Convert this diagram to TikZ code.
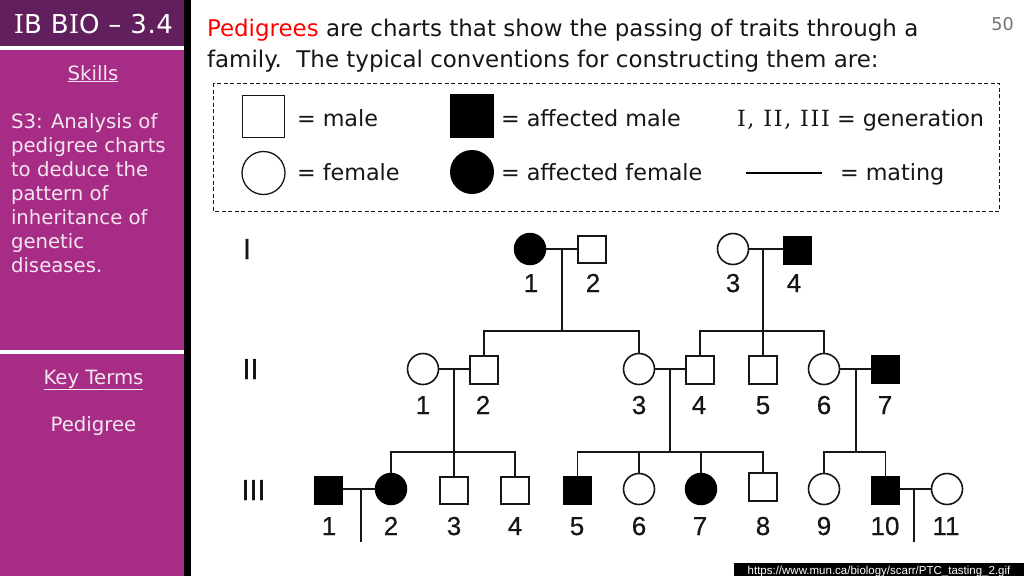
\documentclass[tikz,border=0pt]{standalone}
\usepackage{fontspec}
\setmainfont{DejaVu Sans}
\newfontfamily\helv{Liberation Sans}
\newfontfamily\helvnum[FakeBold=0.5]{Liberation Sans}
\newfontfamily\dvtitle[LetterSpace=2.5]{DejaVu Sans}
\newfontfamily\srtitle[LetterSpace=2.5]{DejaVu Serif}
\newfontfamily\srgen[LetterSpace=7.5]{DejaVu Serif}
\definecolor{sidepurple}{HTML}{A62C85}
\definecolor{headpurple}{HTML}{621F5E}
\definecolor{sidetext}{HTML}{F3E6F0}
\definecolor{inkblack}{HTML}{161616}
\tikzset{
  x=1pt,y=-1pt,
  txt/.style={anchor=base west,inner sep=0pt,outer sep=0pt,font=\fontsize{22.3}{26}\selectfont,text=inkblack},
  head/.style={txt,font=\fontsize{22.95}{26}\selectfont},
  side/.style={anchor=base west,inner sep=0pt,outer sep=0pt,font=\fontsize{19.7}{22}\selectfont,text=sidetext},
  sidec/.style={side,anchor=base},
  lsq/.style={draw=inkblack,line width=1.3pt,fill=white,minimum size=42pt,inner sep=0pt,outer sep=0pt},
  lcir/.style={circle,draw=inkblack,line width=1.3pt,fill=white,minimum size=43pt,inner sep=0pt,outer sep=0pt},
  msq/.style={draw=inkblack,line width=1.6pt,fill=white,minimum size=27.5pt,inner sep=0pt,outer sep=0pt},
  fsq/.style={fill=black,minimum size=29pt,inner sep=0pt,outer sep=0pt},
  fcir/.style={circle,draw=inkblack,line width=1.6pt,fill=white,minimum size=31pt,inner sep=0pt,outer sep=0pt},
  acir/.style={circle,fill=black,minimum size=32.5pt,inner sep=0pt,outer sep=0pt},
  num/.style={anchor=base,inner sep=0pt,outer sep=0pt,font=\helvnum\fontsize{26}{26}\selectfont,text=inkblack},
  gen/.style={anchor=base,inner sep=0pt,outer sep=0pt,font=\helvnum\fontsize{29}{29}\selectfont,text=inkblack},
  link/.style={draw=inkblack,line width=1.7pt},
}
\begin{document}
\begin{tikzpicture}
\useasboundingbox (0,0) rectangle (1024,576);
\fill[white] (0,0) rectangle (1024,576);
% side bar
\fill[sidepurple] (0,0) rectangle (184,576);
\fill[headpurple] (0,0) rectangle (184,46);
\fill[white] (0,46) rectangle (184,50);
\fill[white] (0,350) rectangle (184,354);
\fill[black] (184,0) rectangle (191,576);
\node[side,anchor=base,font=\dvtitle\fontsize{26}{28}\selectfont,text=white] (title) at (93.5,33) {{\srtitle I}B B{\srtitle I}O – 3.4};
\node[sidec] (skills) at (93,80) {\underline{Skills}};
\node[side] (s1) at (11,128) {S3: Analysis of};
\node[side] (s2) at (11,152) {pedigree charts};
\node[side] (s3) at (11,176) {to deduce the};
\node[side] (s4) at (11,200) {pattern of};
\node[side] (s5) at (11,224) {inheritance of};
\node[side] (s6) at (11,248) {genetic};
\node[side] (s7) at (11,272) {diseases.};
\node[sidec] (keyterms) at (93.5,384) {\underline{Key Terms}};
\node[sidec] (pedterm) at (93.5,431) {Pedigree};
% heading
\node[head] (h1) at (207,36) {\textcolor{red}{Pedigrees} are charts that show the passing of traits through a};
\node[head] (h2) at (207,67) {family.\ \ The typical conventions for constructing them are:};
\node[anchor=base east,inner sep=0pt,font=\fontsize{17.6}{20}\selectfont,text=black!55] (pageno) at (1014,30) {50};
% legend
\draw[inkblack,line width=1pt,dash pattern=on 4pt off 2.5pt] (213,83) rectangle (999,211);
\node[lsq] (lm) at (263.5,116.5) {};
\node[lcir] (lf) at (263.5,173) {};
\node[fill=black,minimum size=44pt,inner sep=0pt] (lam) at (472,116) {};
\node[acir,minimum size=44pt] (laf) at (472,172) {};
\node[txt] (t1) at (297,126) {= male};
\node[txt] (t2) at (297,180) {= female};
\node[txt] (t3) at (501,126) {= affected male};
\node[txt] (t4) at (501,180) {= affected female};
\node[txt] (t5) at (737,126) {{\srgen I, II, III} = generation};
\node[txt] (t6) at (840,180) {= mating};
\coordinate (ml) at (746,173);
\coordinate (mr) at (822,173);
\draw[black,line width=2pt] (ml) -- (mr);
% generation labels
\node[gen] (gI) at (247,259) {I};
\node[gen] (gII) at (250.5,379) {II};
\node[gen] (gIII) at (253.5,500) {III};
% generation I
\node[acir] (a1) at (530,249) {};
\node[msq] (a2) at (592,249.5) {};
\node[fcir] (a3) at (733,249) {};
\node[fsq] (a4) at (797,250) {};
% generation II
\node[fcir] (b1) at (423,369) {};
\node[msq] (b2) at (484,370) {};
\node[fcir] (b3) at (639,369) {};
\node[msq] (b4) at (700,370) {};
\node[msq] (b5) at (763,370) {};
\node[fcir] (b6) at (824,369) {};
\node[fsq] (b7) at (885.5,369.5) {};
% generation III
\node[fsq] (c1) at (328.5,490.5) {};
\node[acir] (c2) at (391,489) {};
\node[msq] (c3) at (454,490.5) {};
\node[msq] (c4) at (515,490.5) {};
\node[fsq] (c5) at (577.5,490.5) {};
\node[fcir] (c6) at (639,489) {};
\node[acir] (c7) at (701,489) {};
\node[msq] (c8) at (763,487) {};
\node[fcir] (c9) at (824,489) {};
\node[fsq] (c10) at (885.5,490.5) {};
\node[fcir] (c11) at (947,489) {};
% numbers
\foreach \n/\lab/\xx/\yy in {na1/1/531/292,na2/2/593/292,na3/3/733/292,na4/4/794/292,
  nb1/1/423/414,nb2/2/483/414,nb3/3/639/414,nb4/4/699/414,nb5/5/763/414,nb6/6/824/414,nb7/7/885/414,
  nc1/1/329/535,nc2/2/391/535,nc3/3/454/535,nc4/4/515/535,nc5/5/577/535,nc6/6/639/535,nc7/7/700/535,nc8/8/763/535,nc9/9/824/535,nc10/10/885/535,nc11/11/946/535}
  \node[num] (\n) at (\xx,\yy) {\lab};
% junctions
\coordinate (j1) at (562,249);   \coordinate (k1) at (562,331);
\coordinate (j2) at (763,249);   \coordinate (k2) at (763,331);
\coordinate (j3) at (454,369);   \coordinate (k3) at (454,452);
\coordinate (j4) at (670,369);   \coordinate (k4) at (670,452);
\coordinate (j5) at (856,369);   \coordinate (k5) at (856,452);
\coordinate (j6) at (361,489);   \coordinate (k6) at (361,542);
\coordinate (j7) at (914,489);   \coordinate (k7) at (914,542);
% matings
\draw[link] (a1) -- (a1 -| a2.west);
\draw[link] (a3) -- (a3 -| a4.west);
\draw[link] (b1) -- (b1 -| b2.west);
\draw[link] (b3) -- (b3 -| b4.west);
\draw[link] (b6) -- (b6 -| b7.west);
\draw[link] (c2) -- (c2 -| c1.east);
\draw[link] (c11) -- (c11 -| c10.east);
\draw[link] (j1) -- (k1);
\draw[link] (j2) -- (k2);
\draw[link] (j3) -- (k3);
\draw[link] (j4) -- (k4);
\draw[link] (j5) -- (k5);
\draw[link] (j6) -- (k6);
\draw[link] (j7) -- (k7);
% sibships
\draw[link] (b2.north) |- (k1) -| (b3.north);
\draw[link] (b4.north) |- (k2) -| (b6.north);
\draw[link] (k2) -- (b5.north);
\draw[link] (c2.north) |- (k3) -| (c4.north);
\draw[link] (k3) -- (c3.north);
\draw[link] (c5.north) |- (k4) -| (c8.north);
\draw[link] (c6.north) |- (k4);
\draw[link] (c7.north) |- (k4);
\draw[link] (c9.north) |- (k5) -| (c10.north);
% credit
\fill[black] (734,563) rectangle (1024,576);
\node[anchor=base,inner sep=0pt,font=\helv\fontsize{11.5}{12}\selectfont,text=white] (url) at (879,574) {https://www.mun.ca/biology/scarr/PTC\_tasting\_2.gif};
\end{tikzpicture}
\end{document}
